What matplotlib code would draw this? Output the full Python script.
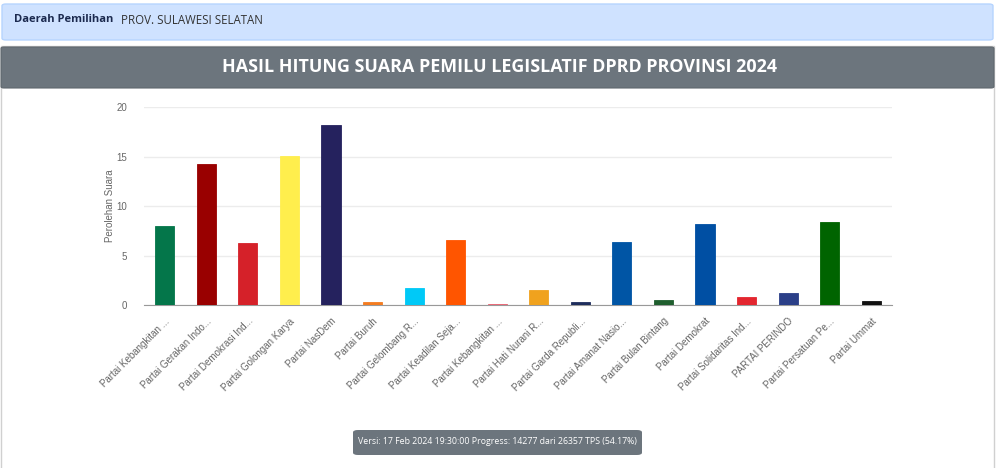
import matplotlib
matplotlib.use("Agg")
import matplotlib.pyplot as plt
from matplotlib.patches import FancyBboxPatch, Rectangle
import numpy as np

# data
parties = ["Partai Kebangkitan ...", "Partai Gerakan Indo...", "Partai Demokrasi Ind...",
           "Partai Golongan Karya", "Partai NasDem", "Partai Buruh",
           "Partai Gelombang R...", "Partai Keadilan Seja...", "Partai Kebangkitan ...",
           "Partai Hati Nurani R...", "Partai Garda Republi...", "Partai Amanat Nasio...",
           "Partai Bulan Bintang", "Partai Demokrat", "Partai Solidaritas Ind...",
           "PARTAI PERINDO", "Partai Persatuan Pe...", "Partai Ummat"]
votes = [7.95, 14.3, 6.3, 15.1, 18.2, 0.35, 1.75, 6.55, 0.15,
         1.5, 0.35, 6.4, 0.55, 8.15, 0.85, 1.25, 8.35, 0.4]
colors = ["#04764a", "#990000", "#d52129", "#ffee4d", "#25225e", "#f47c20",
          "#00c9f7", "#ff5500", "#e96070", "#f0a21e", "#1e2d5c", "#0055a5",
          "#1f5e2e", "#004fa3", "#e3262f", "#2b3f88", "#006400", "#111111"]
yticks = [0, 5, 10, 15, 20]

title = "HASIL HITUNG SUARA PEMILU LEGISLATIF DPRD PROVINSI 2024"
footer = "Versi: 17 Feb 2024 19:30:00 Progress: 14277 dari 26357 TPS (54.17%)"

W, H = 1000, 468
fig = plt.figure(figsize=(W / 100, H / 100), dpi=100)
fig.patch.set_facecolor("white")

def px(x, y):
    # pixel coords (top-left origin) -> figure fraction
    return x / W, 1 - y / H

# blue info box at the top
x0, y0 = px(2, 40)
fig.patches.append(FancyBboxPatch((x0, y0), 991 / W, 36 / H, boxstyle="round,pad=0,rounding_size=0.004",
                                  transform=fig.transFigure, facecolor="#cfe2ff", edgecolor="#b6d4fe",
                                  lw=1, zorder=-5))
fig.text(*px(14, 20), "Daerah Pemilihan", fontfamily="Open Sans", fontweight="bold",
         fontsize=8, color="#1c2a4f", va="center")
fig.text(*px(121, 20), "PROV. SULAWESI SELATAN", fontfamily="Open Sans",
         fontsize=8.3, color="#333333", va="center")

# card border and header
x0, y0 = px(1, 470)
fig.patches.append(Rectangle((x0, y0), 993 / W, 424 / H, transform=fig.transFigure,
                             facecolor="white", edgecolor="#d0d0d0", lw=1, zorder=-6))
x0, y0 = px(1, 88)
fig.patches.append(FancyBboxPatch((x0, y0), 993 / W, 41 / H, boxstyle="round,pad=0,rounding_size=0.003",
                                  transform=fig.transFigure, facecolor="#6c757d", edgecolor="#5f676e",
                                  lw=0.8, zorder=-5))
fig.text(*px(500, 67), title, fontfamily="Open Sans", fontweight="bold",
         fontsize=12.9, color="white", ha="center", va="center")

# chart
ax = fig.add_axes([0.144, 1 - 305 / H, 0.748, 197.7 / H])
ax.set_facecolor("none")
x = np.arange(len(parties))
ax.bar(x, votes, width=0.46, color=colors, edgecolor=colors, lw=0.6, zorder=3)
ax.set_xlim(-0.5, len(parties) - 0.5)
ax.set_ylim(0, 20)
ax.set_yticks(yticks)
ax.grid(axis="y", color="#ececec", lw=1, zorder=0)
for s in ["top", "right", "left"]:
    ax.spines[s].set_visible(False)
ax.spines["bottom"].set_color("#999999")
ax.tick_params(axis="y", length=0, pad=12, labelsize=7, labelcolor="#666666")
ax.tick_params(axis="x", length=0, pad=8)
ax.set_xticks(x)
ax.set_xticklabels(parties, rotation=45, ha="right", rotation_mode="anchor",
                   fontsize=7, color="#666666", fontfamily="Liberation Sans")
for t in ax.get_yticklabels():
    t.set_fontfamily("Liberation Sans")
ax.set_ylabel("Perolehan Suara", fontsize=7, color="#666666", fontfamily="Liberation Sans", labelpad=1)

# footer badge
x0, y0 = px(353, 455)
fig.patches.append(FancyBboxPatch((x0, y0), 289 / W, 25 / H, boxstyle="round,pad=0,rounding_size=0.005",
                                  transform=fig.transFigure, facecolor="#6c757d", edgecolor="none"))
fig.text(*px(497.5, 442), footer, fontfamily="Open Sans", fontsize=6.3,
         color="white", ha="center", va="center")

fig.savefig("out.png", dpi=100)
